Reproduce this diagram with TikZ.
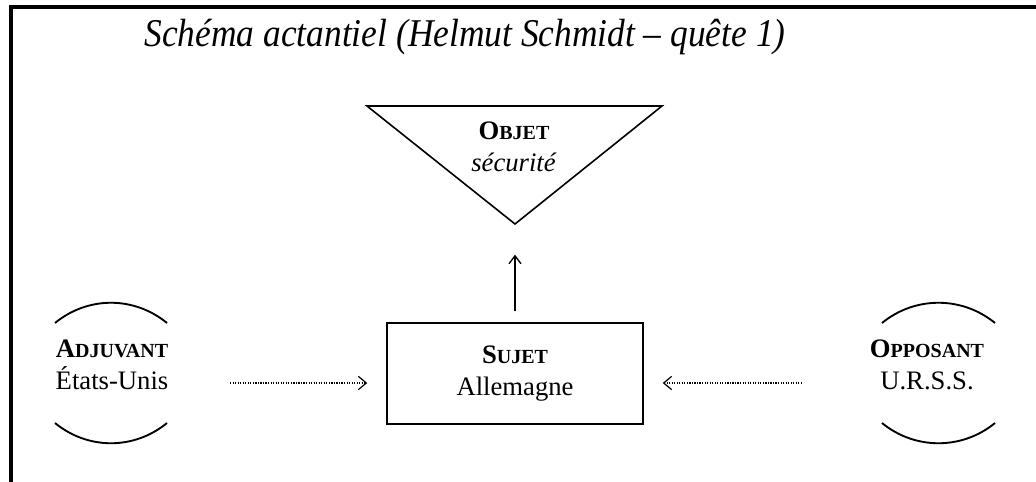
\documentclass[tikz,border=0pt]{standalone}
\usepackage{fontspec}
\setmainfont{Liberation Serif}
\usetikzlibrary{arrows.meta}

% bold name with faked small capitals
\newcommand{\actname}[2]{\textbf{#1{\fontsize{15}{15}\selectfont #2}}}

\begin{document}
\begin{tikzpicture}[x=0.75pt, y=-0.75pt,
    actant/.style={align=center, font=\fontsize{20}{24}\selectfont, inner sep=0pt},
    bow/.style={line width=1.4pt},
    push/.style={line width=0.9pt, densely dotted, -{Straight Barb[length=6pt,width=10pt]}}]
    \useasboundingbox (0,0) rectangle (1036,482);

    % Frame (only the top and left edges are in the picture)
    \draw[line width=3pt] (1036,7) -- (11,7) -- (11,482);

    % Title
    \node (title) at (465,37) [font=\fontsize{29.5}{32}\selectfont\itshape]
        {\scalebox{0.9}[1]{Schéma actantiel (Helmut Schmidt – quête 1)}};

    % Object: downward triangle
    \coordinate (objleft) at (367,106);
    \coordinate (objright) at (662,106);
    \coordinate (objapex) at (515,224);
    \draw[line width=1.2pt] (objleft) -- (objright) -- (objapex) -- cycle;
    \node (objet) at (514,147) [actant] {\actname{O}{BJET}\\ \textit{sécurité}};

    % Subject box
    \node (sujet) at (515,373.5) [actant, draw, line width=1.6pt,
        minimum width=192pt, minimum height=75.75pt] {\actname{S}{UJET}\\ Allemagne};
    \draw[line width=1pt, -{Straight Barb[length=6pt,width=9pt]}]
        ([yshift=8pt]sujet.north) -- ([yshift=-23pt]objapex);

    % Helper and opponent
    \node (adjuvant) at (112,365) [actant] {\actname{A}{DJUVANT}\\ États-Unis};
    \draw[bow] (55,323) .. controls (88,296) and (134,296) .. (167,323);
    \draw[bow] (55,423) .. controls (88,450) and (134,450) .. (167,423);

    \node (opposant) at (927,365) [actant] {\actname{O}{PPOSANT}\\ U.R.S.S.};
    \draw[bow] (882,323) .. controls (915,296) and (962,296) .. (995,323);
    \draw[bow] (882,423) .. controls (915,450) and (962,450) .. (995,423);

    % Pushes towards the subject
    \coordinate (aidetail) at (230,383);
    \coordinate (oppotail) at (802,383);
    \draw[push, shorten >=14pt] (aidetail) -- (aidetail -| sujet.west);
    \draw[push, shorten >=14pt] (oppotail) -- (oppotail -| sujet.east);
\end{tikzpicture}
\end{document}
